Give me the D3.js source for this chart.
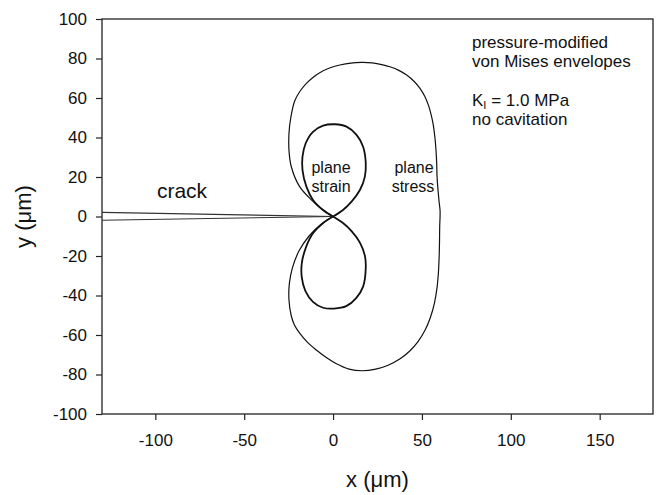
<!DOCTYPE html>
<html>
<head>
<meta charset="utf-8">
<script src="https://cdn.jsdelivr.net/npm/d3@7"></script>
<style>
  html, body { margin: 0; padding: 0; background: #fff; }
  svg { display: block; }
  text { font-family: "Liberation Sans", Arial, sans-serif; fill: #111; }
</style>
</head>
<body>
<svg id="chart" width="659" height="495"></svg>
<script>
// ---- data ----
const xTicks = [-100, -50, 0, 50, 100, 150];
const yTicks = [-100, -80, -60, -40, -20, 0, 20, 40, 60, 80, 100];

// crack flanks
const crackUpperX = [-130, 0];
const crackUpperY = [2.1, 0];
const crackLowerX = [-130, 0];
const crackLowerY = [-1.9, 0];

// plane strain envelope, upper lobe
const strainUpperX = [0, -5.6, -11.3, -15.0, -17.2, -17.2, -15.4, -11.3, -5.6, 1.0, 7.6, 13.2, 16.9, 18.4, 17.9, 15.1, 10.4, 5.6, 0];
const strainUpperY = [0, 3.3, 8.4, 15.1, 23.5, 30.3, 37.1, 42.9, 46.0, 46.7, 45.5, 41.3, 35.3, 26.9, 20.2, 13.4, 7.5, 3.3, 0];
// plane strain envelope, lower lobe
const strainLowerX = [0, -5.6, -11.3, -15.2, -17.6, -17.6, -15.6, -11.3, -5.6, 0.5, 7.4, 13.0, 16.9, 18.4, 17.9, 15.1, 10.4, 5.6, 0];
const strainLowerY = [0, -3.3, -8.5, -15.5, -23.7, -30.8, -37.6, -43.2, -46.2, -46.6, -45.4, -41.3, -35.5, -26.0, -19.8, -13.2, -7.4, -3.3, 0];

// plane stress envelope (one outline through the crack tip)
const stressX = [0, -6.0, -12.2, -18.8, -23.5, -24.8, -24.8, -23.8, -21.6, -18.7, -15.0, -11.5, -7.5, -2.0, 3.8, 10.0, 16.0, 22.0, 28.0, 32.0, 37.0, 41.4, 45.5, 48.9, 51.5, 53.6, 55.2, 56.4, 57.3, 57.9, 58.3, 58.5, 59.0, 59.6, 60.2, 60.2,
                 60.0, 59.9, 59.7, 59.3, 58.5, 57.0, 54.8, 51.8, 47.8, 43.0, 37.5, 31.0, 24.0, 16.5, 9.0, 1.9, -4.0, -9.4, -14.5, -18.8, -21.8, -23.6, -24.8, -24.6, -22.8, -19.2, -13.6, -7.2, 0];
const stressY = [0, 3.4, 8.4, 15.1, 25.2, 33.5, 42.0, 50.0, 58.5, 63.3, 67.4, 70.3, 72.8, 75.2, 76.7, 77.7, 78.0, 77.8, 76.8, 75.8, 74.0, 71.6, 68.5, 64.9, 61.0, 56.5, 51.5, 46.3, 40.0, 33.7, 27.0, 20.2, 14.0, 8.0, 3.0, 0,
                 -5.0, -12.0, -20.0, -28.0, -36.0, -44.0, -51.0, -57.5, -63.3, -68.2, -72.2, -75.3, -77.3, -78.1, -77.3, -74.6, -71.3, -67.6, -63.6, -59.1, -54.8, -50.0, -42.3, -34.0, -25.8, -17.5, -10.0, -4.3, 0];

// ---- drawing ----
const svg = d3.select("#chart");
const L = 102, R = 653, T = 19, B = 414;
const x = d3.scaleLinear().domain([-130, 180]).range([L, R]);
const y = d3.scaleLinear().domain([-100, 100]).range([B, T]);

const zip = (xs, ys) => xs.map((v, i) => [v, ys[i]]);
const smooth = d3.line().x(d => x(d[0])).y(d => y(d[1])).curve(d3.curveCatmullRom.alpha(0.5));
const straight = d3.line().x(d => x(d[0])).y(d => y(d[1]));

// axes
const xAxis = d3.axisBottom(x).tickValues(xTicks).tickSize(6).tickPadding(14).tickFormat(d3.format("d"));
const yAxis = d3.axisLeft(y).tickValues(yTicks).tickSize(6).tickPadding(9).tickFormat(d3.format("d"));

const gx = svg.append("g").attr("transform", `translate(0,${B})`).call(xAxis);
const gy = svg.append("g").attr("transform", `translate(${L},0)`).call(yAxis);
[gx, gy].forEach(g => {
  g.select(".domain").remove();
  g.selectAll(".tick line").attr("stroke", "#222").attr("stroke-width", 1.2);
  g.selectAll(".tick text").style("font-size", "17px").style("font-family", "'Liberation Sans', Arial, sans-serif").attr("fill", "#111");
});
gx.selectAll(".tick text").text(d => d < 0 ? "-" + Math.abs(d) : d);
gy.selectAll(".tick text").text(d => d < 0 ? "-" + Math.abs(d) : d);

// frame
svg.append("rect").attr("x", L).attr("y", T).attr("width", R - L).attr("height", B - T)
  .attr("fill", "none").attr("stroke", "#222").attr("stroke-width", 1.3);

// crack
svg.append("path").attr("d", straight(zip(crackUpperX, crackUpperY)))
  .attr("fill", "none").attr("stroke", "#333").attr("stroke-width", 1.1);
svg.append("path").attr("d", straight(zip(crackLowerX, crackLowerY)))
  .attr("fill", "none").attr("stroke", "#333").attr("stroke-width", 1.1);

// envelopes
svg.append("path").attr("d", smooth(zip(stressX, stressY)))
  .attr("fill", "none").attr("stroke", "#111").attr("stroke-width", 1.2);
svg.append("path").attr("d", smooth(zip(strainUpperX, strainUpperY)))
  .attr("fill", "none").attr("stroke", "#111").attr("stroke-width", 1.8);
svg.append("path").attr("d", smooth(zip(strainLowerX, strainLowerY)))
  .attr("fill", "none").attr("stroke", "#111").attr("stroke-width", 1.8);

// in-plot labels
const lbl = (t, px, py, size, anchor) => svg.append("text").attr("x", px).attr("y", py)
  .attr("text-anchor", anchor || "middle").style("font-size", size + "px").text(t);
lbl("crack", 182, 198, 21);
lbl("plane", 331, 173, 16);
lbl("strain", 331, 192, 16);
lbl("plane", 414, 173, 16);
lbl("stress", 413, 192, 16);

lbl("pressure-modified", 472, 48, 17, "start");
lbl("von Mises envelopes", 472, 67, 17, "start");
const k = svg.append("text").attr("x", 472).attr("y", 106).style("font-size", "17px");
k.append("tspan").text("K");
k.append("tspan").attr("dy", 3).style("font-size", "11px").text("I");
k.append("tspan").attr("dy", -3).text(" = 1.0 MPa");
lbl("no cavitation", 472, 125, 17, "start");

// axis titles
const xt = svg.append("text").attr("x", (L + R) / 2).attr("y", 487).attr("text-anchor", "middle").style("font-size", "22px");
xt.append("tspan").text("x (");
xt.append("tspan").text("\u03bc");
xt.append("tspan").text("m)");
const yt = svg.append("text").attr("transform", `translate(31,${(T + B) / 2}) rotate(-90)`).attr("text-anchor", "middle").style("font-size", "22px");
yt.append("tspan").text("y (");
yt.append("tspan").text("\u03bc");
yt.append("tspan").text("m)");
</script>
</body>
</html>
